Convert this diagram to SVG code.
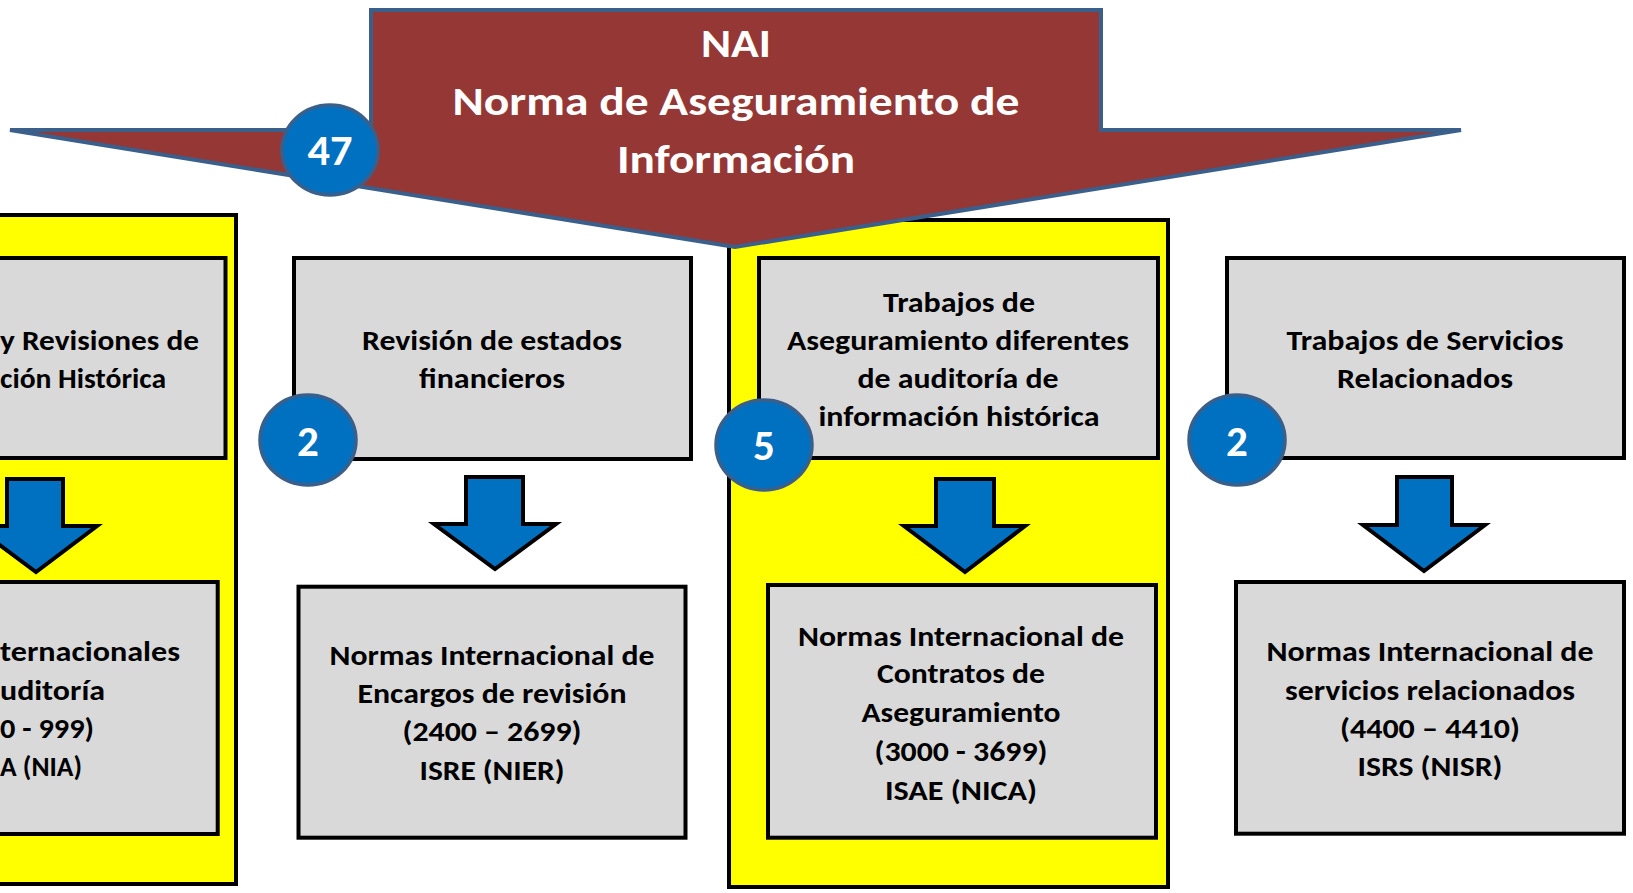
<svg xmlns="http://www.w3.org/2000/svg" width="1633" height="893" viewBox="0 0 1633 893">
<style>
.yel{fill:#ffff00;stroke:#000;stroke-width:4}
.box{fill:#d9d9d9;stroke:#000;stroke-width:4}
.arr{fill:#0070c0;stroke:#000;stroke-width:4;stroke-linejoin:miter}
.badge{fill:#0070c0;stroke:#3a5f8b;stroke-width:3.5}
.t{font-family:Carlito,Lato,"Liberation Sans",sans-serif;font-weight:bold;font-size:28.5px;fill:#000;text-anchor:middle}
.te{font-family:Carlito,Lato,"Liberation Sans",sans-serif;font-weight:bold;font-size:28.5px;fill:#000;text-anchor:end}
.title{font-family:Carlito,Lato,"Liberation Sans",sans-serif;font-weight:bold;font-size:41px;fill:#fff;text-anchor:middle}
.num{font-family:Carlito,Lato,"Liberation Sans",sans-serif;font-weight:bold;font-size:43px;fill:#fff;text-anchor:middle}
</style>
<rect width="1633" height="893" fill="#fff"/>
<g id="panel-left"><rect class="yel" x="-20" y="215" width="256" height="669"/></g>
<g id="panel-mid"><rect class="yel" x="729" y="220" width="439" height="667"/></g>
<g id="nai">
<polygon points="10,130 371,130 371,10 1101,10 1101,130 1461,130 735,247" fill="#953735" stroke="#3a5f8b" stroke-width="4" stroke-linejoin="miter"/>
<text class="title" x="736" y="57" textLength="70" lengthAdjust="spacingAndGlyphs">NAI</text>
<text class="title" x="736" y="115" textLength="567" lengthAdjust="spacingAndGlyphs">Norma de Aseguramiento de</text>
<text class="title" x="736" y="173" textLength="238" lengthAdjust="spacingAndGlyphs">Información</text>
</g>
<g id="box-auditorias">
<rect class="box" x="-20" y="258" width="245.5" height="200"/>
<text class="te" x="199" y="350" textLength="199" lengthAdjust="spacingAndGlyphs">y Revisiones de</text>
<text class="te" x="166" y="388" textLength="166" lengthAdjust="spacingAndGlyphs">ción Histórica</text>
</g>
<g id="box-revision">
<rect class="box" x="294" y="258" width="397" height="201"/>
<text class="t" x="492" y="350" textLength="260" lengthAdjust="spacingAndGlyphs">Revisión de estados</text>
<text class="t" x="492" y="388" textLength="146" lengthAdjust="spacingAndGlyphs">financieros</text>
</g>
<g id="box-aseguramiento">
<rect class="box" x="759" y="258" width="399" height="200"/>
<text class="t" x="959" y="312" textLength="152" lengthAdjust="spacingAndGlyphs">Trabajos de</text>
<text class="t" x="958" y="350" textLength="342" lengthAdjust="spacingAndGlyphs">Aseguramiento diferentes</text>
<text class="t" x="958" y="388" textLength="201" lengthAdjust="spacingAndGlyphs">de auditoría de</text>
<text class="t" x="959" y="426" textLength="281" lengthAdjust="spacingAndGlyphs">información histórica</text>
</g>
<g id="box-servicios">
<rect class="box" x="1227" y="258" width="397" height="200"/>
<text class="t" x="1425" y="350" textLength="277" lengthAdjust="spacingAndGlyphs">Trabajos de Servicios</text>
<text class="t" x="1425" y="388" textLength="176" lengthAdjust="spacingAndGlyphs">Relacionados</text>
</g>
<g id="connectors">
<polygon class="arr" points="7,479 63,479 63,526 97,526 36,572 -26,526 7,526"/>
<polygon class="arr" points="466,477 523,477 523,524 556,524 495,569 434,524 466,524"/>
<polygon class="arr" points="936,479 994,479 994,526 1025,526 965,572 904,526 936,526"/>
<polygon class="arr" points="1397,477 1452,477 1452,525 1485,525 1424,571 1363,525 1397,525"/>
</g>
<g id="box-nia">
<rect class="box" x="-20" y="582" width="237.7" height="252"/>
<text class="te" x="180" y="661" textLength="180" lengthAdjust="spacingAndGlyphs">ternacionales</text>
<text class="te" x="105" y="700" textLength="105" lengthAdjust="spacingAndGlyphs">uditoría</text>
<text class="te" x="94" y="738" textLength="94" lengthAdjust="spacingAndGlyphs">0 - 999)</text>
<text class="te" x="82" y="776" textLength="82" lengthAdjust="spacingAndGlyphs">A (NIA)</text>
</g>
<g id="box-nier">
<rect class="box" x="298.5" y="586.7" width="387" height="251"/>
<text class="t" x="492" y="665" textLength="325" lengthAdjust="spacingAndGlyphs">Normas Internacional de</text>
<text class="t" x="492" y="703" textLength="269" lengthAdjust="spacingAndGlyphs">Encargos de revisión</text>
<text class="t" x="492" y="741" textLength="179" lengthAdjust="spacingAndGlyphs">(2400 – 2699)</text>
<text class="t" x="492" y="780" textLength="145" lengthAdjust="spacingAndGlyphs">ISRE (NIER)</text>
</g>
<g id="box-nica">
<rect class="box" x="768" y="585" width="388" height="252.7"/>
<text class="t" x="961" y="646" textLength="326" lengthAdjust="spacingAndGlyphs">Normas Internacional de</text>
<text class="t" x="961" y="683" textLength="168" lengthAdjust="spacingAndGlyphs">Contratos de</text>
<text class="t" x="961" y="722" textLength="199" lengthAdjust="spacingAndGlyphs">Aseguramiento</text>
<text class="t" x="961" y="761" textLength="173" lengthAdjust="spacingAndGlyphs">(3000 - 3699)</text>
<text class="t" x="961" y="800" textLength="152" lengthAdjust="spacingAndGlyphs">ISAE (NICA)</text>
</g>
<g id="box-nisr">
<rect class="box" x="1236" y="582" width="388" height="251.7"/>
<text class="t" x="1430" y="661" textLength="327" lengthAdjust="spacingAndGlyphs">Normas Internacional de</text>
<text class="t" x="1430" y="700" textLength="290" lengthAdjust="spacingAndGlyphs">servicios relacionados</text>
<text class="t" x="1430" y="738" textLength="180" lengthAdjust="spacingAndGlyphs">(4400 – 4410)</text>
<text class="t" x="1430" y="776" textLength="145" lengthAdjust="spacingAndGlyphs">ISRS (NISR)</text>
</g>
<g id="badge-47">
<ellipse class="badge" cx="330" cy="150" rx="48" ry="45"/>
<text class="num" x="330" y="165" textLength="45" lengthAdjust="spacingAndGlyphs">47</text>
</g>
<g id="badge-2a">
<ellipse class="badge" cx="308" cy="440" rx="48" ry="45"/>
<text class="num" x="308" y="456">2</text>
</g>
<g id="badge-5">
<ellipse class="badge" cx="764" cy="445" rx="48" ry="45"/>
<text class="num" x="764" y="460">5</text>
</g>
<g id="badge-2b">
<ellipse class="badge" cx="1237" cy="440" rx="48" ry="45"/>
<text class="num" x="1237" y="456">2</text>
</g>
</svg>
